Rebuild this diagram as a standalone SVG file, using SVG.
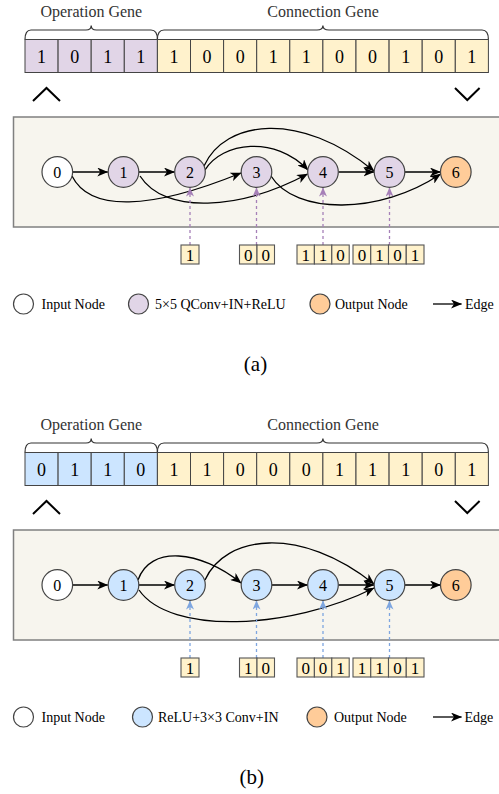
<svg xmlns="http://www.w3.org/2000/svg" width="499" height="794" viewBox="0 0 499 794">
<defs>
<style>
.t{font-family:"Liberation Serif","Times New Roman",serif;fill:#000}
.hd{font-size:16px;fill:#333;text-anchor:middle}
.dg{font-size:18px;text-anchor:middle}
.nl{font-size:16px;text-anchor:middle}
.sb{font-size:17px;text-anchor:middle}
.lg{font-size:14px}
.cap{font-size:21px;text-anchor:middle}
.cell{stroke:#444;stroke-width:1}
.op-a{fill:#e1d5e7}.op-b{fill:#cce5ff}.cn{fill:#fff2cc}
.brace{fill:none;stroke:#333;stroke-width:1.2}
.chev{fill:none;stroke:#000;stroke-width:2}
.panel{fill:#f7f5ee;stroke:#808080;stroke-width:1.5}
.node{stroke:#444;stroke-width:1.2}
.w{fill:#fff}.pu{fill:#e1d5e7}.bl{fill:#cce5ff}.or{fill:#ffcc99}
.e{fill:none;stroke:#000;stroke-width:1.3;marker-end:url(#ah)}
.dp{fill:none;stroke:#a680b8;stroke-width:1.3;stroke-dasharray:3,3;marker-end:url(#ahp)}
.db{fill:none;stroke:#7ea6e0;stroke-width:1.3;stroke-dasharray:3,3;marker-end:url(#ahb)}
.sbox{fill:#fff2cc;stroke:#555;stroke-width:1.1}
</style>
<marker id="ah" viewBox="0 0 11 9" refX="10.5" refY="4.5" markerWidth="11" markerHeight="9" markerUnits="userSpaceOnUse" orient="auto"><path d="M0,0 L11,4.5 L0,9 L3,4.5 z" fill="#000"/></marker>
<marker id="ahp" viewBox="0 0 9 8" refX="8.5" refY="4" markerWidth="9" markerHeight="8" markerUnits="userSpaceOnUse" orient="auto"><path d="M0,0 L9,4 L0,8 L2.5,4 z" fill="#a680b8"/></marker>
<marker id="ahb" viewBox="0 0 9 8" refX="8.5" refY="4" markerWidth="9" markerHeight="8" markerUnits="userSpaceOnUse" orient="auto"><path d="M0,0 L9,4 L0,8 L2.5,4 z" fill="#7ea6e0"/></marker>
</defs>
<rect width="499" height="794" fill="#fff"/>

<!-- ===== (a) ===== -->
<g id="a-genes">
<text class="t hd" x="91.3" y="17">Operation Gene</text>
<text class="t hd" x="323" y="17">Connection Gene</text>
<path class="brace" d="M25,39.5 Q25,30 31,30 L86,30 Q91.2,30 91.2,25.5 Q91.2,30 96.4,30 L151,30 Q157.4,30 157.4,39.5"/>
<path class="brace" d="M157.4,39.5 Q157.4,30 164,30 L317,30 Q322.9,30 322.9,25.5 Q322.9,30 329,30 L482,30 Q488.4,30 488.4,39.5"/>
<rect class="cell op-a" x="25" y="39.5" width="33.1" height="33"/>
<rect class="cell op-a" x="58.1" y="39.5" width="33.1" height="33"/>
<rect class="cell op-a" x="91.2" y="39.5" width="33.1" height="33"/>
<rect class="cell op-a" x="124.3" y="39.5" width="33.1" height="33"/>
<rect class="cell cn" x="157.4" y="39.5" width="33.1" height="33"/>
<rect class="cell cn" x="190.5" y="39.5" width="33.1" height="33"/>
<rect class="cell cn" x="223.6" y="39.5" width="33.1" height="33"/>
<rect class="cell cn" x="256.7" y="39.5" width="33.1" height="33"/>
<rect class="cell cn" x="289.8" y="39.5" width="33.1" height="33"/>
<rect class="cell cn" x="322.9" y="39.5" width="33.1" height="33"/>
<rect class="cell cn" x="356" y="39.5" width="33.1" height="33"/>
<rect class="cell cn" x="389.1" y="39.5" width="33.1" height="33"/>
<rect class="cell cn" x="422.2" y="39.5" width="33.1" height="33"/>
<rect class="cell cn" x="455.3" y="39.5" width="33.1" height="33"/>
<text class="t dg" y="62.5"><tspan x="41.55">1</tspan><tspan x="74.65">0</tspan><tspan x="107.75">1</tspan><tspan x="140.85">1</tspan><tspan x="173.95">1</tspan><tspan x="207.05">0</tspan><tspan x="240.15">0</tspan><tspan x="273.25">1</tspan><tspan x="306.35">1</tspan><tspan x="339.45">0</tspan><tspan x="372.55">0</tspan><tspan x="405.65">1</tspan><tspan x="438.75">0</tspan><tspan x="471.85">1</tspan></text>
<path class="chev" d="M33,101 L46.5,88 L60,101"/>
<path class="chev" d="M455,88 L467.3,100 L479.6,88"/>
</g>

<rect class="panel" x="13.5" y="117" width="495" height="110"/>

<g id="a-edges">
<path class="e" d="M72.5,172 L107.8,172"/>
<path class="e" d="M138.8,172 L174.5,172"/>
<path class="e" d="M72,176 C90,212 150,210 241,173"/>
<path class="e" d="M140,176 C165,215 240,210 307.5,174"/>
<path class="e" d="M205,170 C222,142 275,135 308,170"/>
<path class="e" d="M204,166 C225,120 300,110 374,171"/>
<path class="e" d="M271,176 C295,215 380,215 440.5,174"/>
<path class="e" d="M338.5,172 L374,172"/>
<path class="e" d="M405,172 L440.5,172"/>
<path class="dp" d="M190,245 L190,188"/>
<path class="dp" d="M256.5,245 L256.5,188"/>
<path class="dp" d="M323,245 L323,188"/>
<path class="dp" d="M389.5,245 L389.5,188"/>
</g>

<g id="a-n0"><circle class="node w" cx="57.3" cy="172" r="15.3"/><text class="t nl" x="57.3" y="177.5">0</text></g>
<g id="a-n1"><circle class="node pu" cx="123.5" cy="172" r="15.3"/><text class="t nl" x="123.5" y="177.5">1</text></g>
<g id="a-n2"><circle class="node pu" cx="190" cy="172" r="15.3"/><text class="t nl" x="190" y="177.5">2</text></g>
<g id="a-n3"><circle class="node pu" cx="256.5" cy="172" r="15.3"/><text class="t nl" x="256.5" y="177.5">3</text></g>
<g id="a-n4"><circle class="node pu" cx="323" cy="172" r="15.3"/><text class="t nl" x="323" y="177.5">4</text></g>
<g id="a-n5"><circle class="node pu" cx="389.5" cy="172" r="15.3"/><text class="t nl" x="389.5" y="177.5">5</text></g>
<g id="a-n6"><circle class="node or" cx="455.8" cy="172" r="15.3"/><text class="t nl" x="455.8" y="177.5">6</text></g>

<g id="a-bits">
<rect class="sbox" x="181" y="245" width="18" height="19"/>
<rect class="sbox" x="239.5" y="245" width="17.5" height="19"/><rect class="sbox" x="257" y="245" width="17.5" height="19"/>
<rect class="sbox" x="297" y="245" width="17.4" height="19"/><rect class="sbox" x="314.4" y="245" width="17.4" height="19"/><rect class="sbox" x="331.8" y="245" width="17.4" height="19"/>
<rect class="sbox" x="353" y="245" width="17.75" height="19"/><rect class="sbox" x="370.75" y="245" width="17.75" height="19"/><rect class="sbox" x="388.5" y="245" width="17.75" height="19"/><rect class="sbox" x="406.25" y="245" width="17.75" height="19"/>
<text class="t sb" y="260.5"><tspan x="190">1</tspan><tspan x="248.25">0</tspan><tspan x="265.75">0</tspan><tspan x="305.7">1</tspan><tspan x="323.1">1</tspan><tspan x="340.5">0</tspan><tspan x="361.9">0</tspan><tspan x="379.6">1</tspan><tspan x="397.4">0</tspan><tspan x="415.1">1</tspan></text>
</g>

<g id="a-legend">
<circle class="node w" cx="23.5" cy="304" r="10"/>
<text class="t lg" x="41.5" y="309">Input Node</text>
<circle class="node pu" cx="138.5" cy="304" r="10"/>
<text class="t lg" x="155" y="309">5×5 QConv+IN+ReLU</text>
<circle class="node or" cx="320" cy="304" r="10"/>
<text class="t lg" x="335" y="309">Output Node</text>
<path class="e" d="M433,304 L461.5,304"/>
<text class="t lg" x="465" y="309">Edge</text>
</g>
<text class="t cap" x="255.5" y="371">(a)</text>

<!-- ===== (b) ===== -->
<g id="b-genes">
<text class="t hd" x="91.3" y="430">Operation Gene</text>
<text class="t hd" x="323" y="430">Connection Gene</text>
<path class="brace" d="M25,452.5 Q25,443 31,443 L86,443 Q91.2,443 91.2,438.5 Q91.2,443 96.4,443 L151,443 Q157.4,443 157.4,452.5"/>
<path class="brace" d="M157.4,452.5 Q157.4,443 164,443 L317,443 Q322.9,443 322.9,438.5 Q322.9,443 329,443 L482,443 Q488.4,443 488.4,452.5"/>
<rect class="cell op-b" x="25" y="452.5" width="33.1" height="33"/>
<rect class="cell op-b" x="58.1" y="452.5" width="33.1" height="33"/>
<rect class="cell op-b" x="91.2" y="452.5" width="33.1" height="33"/>
<rect class="cell op-b" x="124.3" y="452.5" width="33.1" height="33"/>
<rect class="cell cn" x="157.4" y="452.5" width="33.1" height="33"/>
<rect class="cell cn" x="190.5" y="452.5" width="33.1" height="33"/>
<rect class="cell cn" x="223.6" y="452.5" width="33.1" height="33"/>
<rect class="cell cn" x="256.7" y="452.5" width="33.1" height="33"/>
<rect class="cell cn" x="289.8" y="452.5" width="33.1" height="33"/>
<rect class="cell cn" x="322.9" y="452.5" width="33.1" height="33"/>
<rect class="cell cn" x="356" y="452.5" width="33.1" height="33"/>
<rect class="cell cn" x="389.1" y="452.5" width="33.1" height="33"/>
<rect class="cell cn" x="422.2" y="452.5" width="33.1" height="33"/>
<rect class="cell cn" x="455.3" y="452.5" width="33.1" height="33"/>
<text class="t dg" y="475.5"><tspan x="41.55">0</tspan><tspan x="74.65">1</tspan><tspan x="107.75">1</tspan><tspan x="140.85">0</tspan><tspan x="173.95">1</tspan><tspan x="207.05">1</tspan><tspan x="240.15">0</tspan><tspan x="273.25">0</tspan><tspan x="306.35">0</tspan><tspan x="339.45">1</tspan><tspan x="372.55">1</tspan><tspan x="405.65">1</tspan><tspan x="438.75">0</tspan><tspan x="471.85">1</tspan></text>
<path class="chev" d="M33,514 L46.5,501 L60,514"/>
<path class="chev" d="M455,501 L467.3,513 L479.6,501"/>
</g>

<rect class="panel" x="13.5" y="530" width="495" height="110"/>

<g id="b-edges">
<path class="e" d="M72.5,585 L107.8,585"/>
<path class="e" d="M138.8,585 L174.5,585"/>
<path class="e" d="M138,580 C150,545 200,550 241,583"/>
<path class="e" d="M205,580 C225,535 300,525 374,584"/>
<path class="e" d="M139,590 C170,635 290,630 374,588"/>
<path class="e" d="M271.8,585 L307.5,585"/>
<path class="e" d="M338.5,585 L374,585"/>
<path class="e" d="M405,585 L440.5,585"/>
<path class="db" d="M190,658 L190,601"/>
<path class="db" d="M256.5,658 L256.5,601"/>
<path class="db" d="M323,658 L323,601"/>
<path class="db" d="M389.5,658 L389.5,601"/>
</g>

<g id="b-n0"><circle class="node w" cx="57.3" cy="585" r="15.3"/><text class="t nl" x="57.3" y="590.5">0</text></g>
<g id="b-n1"><circle class="node bl" cx="123.5" cy="585" r="15.3"/><text class="t nl" x="123.5" y="590.5">1</text></g>
<g id="b-n2"><circle class="node bl" cx="190" cy="585" r="15.3"/><text class="t nl" x="190" y="590.5">2</text></g>
<g id="b-n3"><circle class="node bl" cx="256.5" cy="585" r="15.3"/><text class="t nl" x="256.5" y="590.5">3</text></g>
<g id="b-n4"><circle class="node bl" cx="323" cy="585" r="15.3"/><text class="t nl" x="323" y="590.5">4</text></g>
<g id="b-n5"><circle class="node bl" cx="389.5" cy="585" r="15.3"/><text class="t nl" x="389.5" y="590.5">5</text></g>
<g id="b-n6"><circle class="node or" cx="455.8" cy="585" r="15.3"/><text class="t nl" x="455.8" y="590.5">6</text></g>

<g id="b-bits">
<rect class="sbox" x="181" y="658" width="18" height="19"/>
<rect class="sbox" x="239.5" y="658" width="17.5" height="19"/><rect class="sbox" x="257" y="658" width="17.5" height="19"/>
<rect class="sbox" x="297" y="658" width="17.4" height="19"/><rect class="sbox" x="314.4" y="658" width="17.4" height="19"/><rect class="sbox" x="331.8" y="658" width="17.4" height="19"/>
<rect class="sbox" x="353" y="658" width="17.75" height="19"/><rect class="sbox" x="370.75" y="658" width="17.75" height="19"/><rect class="sbox" x="388.5" y="658" width="17.75" height="19"/><rect class="sbox" x="406.25" y="658" width="17.75" height="19"/>
<text class="t sb" y="673.5"><tspan x="190">1</tspan><tspan x="248.25">1</tspan><tspan x="265.75">0</tspan><tspan x="305.7">0</tspan><tspan x="323.1">0</tspan><tspan x="340.5">1</tspan><tspan x="361.9">1</tspan><tspan x="379.6">1</tspan><tspan x="397.4">0</tspan><tspan x="415.1">1</tspan></text>
</g>

<g id="b-legend">
<circle class="node w" cx="23.5" cy="717" r="10"/>
<text class="t lg" x="41.5" y="722">Input Node</text>
<circle class="node bl" cx="142.5" cy="717" r="10"/>
<text class="t lg" x="158" y="722">ReLU+3×3 Conv+IN</text>
<circle class="node or" cx="317" cy="717" r="10"/>
<text class="t lg" x="334" y="722">Output Node</text>
<path class="e" d="M433,717 L461.5,717"/>
<text class="t lg" x="464.5" y="722">Edge</text>
</g>
<text class="t cap" x="251.7" y="784">(b)</text>
</svg>
